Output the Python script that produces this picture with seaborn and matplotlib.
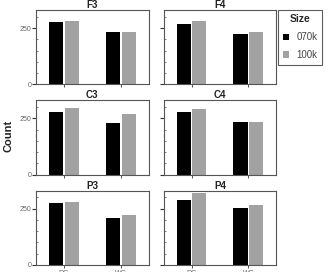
import matplotlib
matplotlib.use("Agg")
import matplotlib.pyplot as plt
from matplotlib.patches import Patch
from matplotlib.ticker import MultipleLocator
import seaborn as sns
import pandas as pd

panels = ["F3", "F4", "C3", "C4", "P3", "P4"]
conditions = ["RC", "WC"]
sizes = ["070k", "100k"]
# values per panel: [RC, WC]
vals_070k = {"F3": [278, 233], "F4": [268, 225], "C3": [277, 230],
             "C4": [277, 232], "P3": [277, 210], "P4": [290, 251]}
vals_100k = {"F3": [283, 231], "F4": [283, 232], "C3": [298, 271],
             "C4": [292, 236], "P3": [279, 220], "P4": [318, 268]}
colors = ["#000000", "#a2a2a2"]

rows = []
for p in panels:
    for i, c in enumerate(conditions):
        rows.append({"panel": p, "cond": c, "size": sizes[0], "count": vals_070k[p][i]})
        rows.append({"panel": p, "cond": c, "size": sizes[1], "count": vals_100k[p][i]})
df = pd.DataFrame(rows)

sns.set_style("white")
plt.rcParams["font.family"] = ["Liberation Sans", "DejaVu Sans"]

fig, axes = plt.subplots(3, 2, figsize=(3.28, 2.72), dpi=100, sharey=True)
fig.subplots_adjust(left=0.11, right=0.842, top=0.963, bottom=0.026,
                    wspace=0.134, hspace=0.216)

for ax, p in zip(axes.flat, panels):
    sub = df[df["panel"] == p]
    sns.barplot(data=sub, x="cond", y="count", hue="size", hue_order=sizes,
                order=conditions, palette=colors, ax=ax, width=0.55, gap=0.1,
                legend=False, errorbar=None, saturation=1, edgecolor="none")
    ax.set_title(p, fontsize=7, fontweight="bold", pad=1.5, color="#222222")
    ax.set_xlim(-0.49, 1.49)
    ax.set_ylim(0, 330)
    ax.set_xlabel("")
    ax.set_ylabel("")
    ax.yaxis.set_major_locator(MultipleLocator(250))
    ax.yaxis.set_minor_locator(MultipleLocator(50))
    ax.tick_params(axis="y", which="major", length=3, width=0.8, labelsize=5,
                   labelcolor="#666666", pad=0.5, left=True, color="#333333")
    ax.tick_params(axis="y", which="minor", length=1.5, width=0.5, left=True,
                   direction="in", color="#555555")
    ax.tick_params(axis="x", which="major", length=2, width=0.6, labelsize=5,
                   labelcolor="#666666", pad=1.5, bottom=True, color="#333333")
    for s in ax.spines.values():
        s.set_color("#555555")
        s.set_linewidth(0.8)

for ax in axes[:2, :].flat:
    ax.tick_params(axis="x", labelbottom=False)

fig.text(0.027, 0.5, "Count", rotation=90, ha="center", va="center",
         fontsize=8, fontweight="bold", color="#222222")

handles = [Patch(facecolor=colors[0], edgecolor="none"),
           Patch(facecolor=colors[1], edgecolor="none")]
leg = fig.legend(handles, sizes, title="Size", loc="upper left",
                 bbox_to_anchor=(0.848, 0.965), frameon=True, fontsize=7,
                 title_fontproperties={"weight": "bold", "size": 7.5},
                 handlelength=0.6, handleheight=0.6, handletextpad=0.8,
                 borderpad=0.5, labelspacing=0.8, fancybox=False,
                 borderaxespad=0)
leg.get_frame().set_edgecolor("#333333")
leg.get_frame().set_linewidth(0.8)
for t in leg.get_texts():
    t.set_color("#444444")

fig.savefig("out.png", dpi=100)
